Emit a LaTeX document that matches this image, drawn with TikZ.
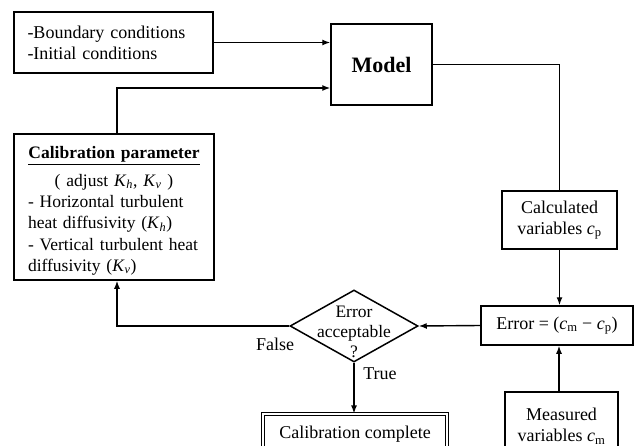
\documentclass[tikz,border=0pt]{standalone}
\usepackage{fontspec}
\setmainfont{Liberation Serif}
\usetikzlibrary{shapes.geometric,arrows.meta}
\tikzset{
  box/.style={draw, line width=1.5pt, rectangle, inner sep=0pt, align=center,
    font=\fontsize{18}{21}\selectfont},
  conn/.style={line width=1.4pt},
  arr/.style={conn, -{Latex[length=8pt,width=6pt]}},
  lbl/.style={font=\fontsize{18}{21}\selectfont, inner sep=0pt}
}
\begin{document}
\begin{tikzpicture}[x=1pt,y=-1pt]
\clip (0,0) rectangle (636,446);
\fill[white] (0,0) rectangle (636,446);
% boxes
\node[box, minimum width=199pt, minimum height=61pt, text width=172pt, align=left] (bc) at (113.5,42.5)
  {-Boundary conditions\\-Initial conditions};
\node[box, minimum width=101pt, minimum height=81pt, font=\fontsize{22}{24}\selectfont\bfseries] (model) at (381.5,64.5) {Model};
\node[box, minimum width=200pt, minimum height=146pt, text width=172pt, align=left,
  font=\fontsize{17.5}{21.3}\selectfont] (calib) at (114,207)
  {\makebox[\linewidth][c]{\rule{0pt}{20pt}\textbf{\underline{Calibration parameter}}}\\[6pt]
   \makebox[\linewidth][c]{( adjust \textit{K}\textsubscript{\textit{h}}, \textit{K}\textsubscript{\textit{v}} )}\\
   - Horizontal turbulent\\
   heat diffusivity (\textit{K}\textsubscript{\textit{h}})\\
   - Vertical turbulent heat\\
   diffusivity (\textit{K}\textsubscript{\textit{v}})};
\node[box, minimum width=115pt, minimum height=58pt] (calc) at (559.5,220)
  {Calculated\\variables \textit{c}\textsubscript{p}};
\node[box, minimum width=152pt, minimum height=39pt] (err) at (557,325.5)
  {Error = (\textit{c}\textsubscript{m} − \textit{c}\textsubscript{p})};
\node[draw, diamond, line width=1.5pt, minimum width=128pt, minimum height=72pt, inner sep=0pt] (dec) at (354,326) {};
\node[lbl, align=center, font=\fontsize{17.5}{20}\selectfont] (dectext) at (354,332) {Error\\acceptable\\?};
\node[box, minimum width=113pt, minimum height=68pt] (meas) at (561.5,426)
  {Measured\\variables \textit{c}\textsubscript{m}};
\node[box, double, double distance=2pt, line width=1.1pt, minimum width=184pt, minimum height=40pt] (done) at (355,434)
  {Calibration complete};
% labels
\node[lbl] (false) at (275,344) {False};
\node[lbl] (true) at (380,374) {True};
% connectors
\draw[arr] (bc.east) -- (bc.east -| model.west);
\coordinate (cup) at ([xshift=3pt]calib.north);
\coordinate (min) at ([yshift=-23.5pt]model.west);
\draw[arr] (cup) |- (min);
\draw[conn] (model.east) -| (calc.north);
\draw[arr] (calc.south) -- (calc.south |- err.north);
\coordinate (mtop) at ([xshift=-2.5pt]meas.north);
\draw[arr] (mtop) -- (mtop |- err.south);
\draw[arr] (err.west) -- (dec.east);
\coordinate (cbot) at ([xshift=3pt]calib.south);
\draw[arr] (dec.west) -| (cbot);
\draw[arr] (dec.south) -- (dec.south |- done.north);
\end{tikzpicture}
\end{document}
